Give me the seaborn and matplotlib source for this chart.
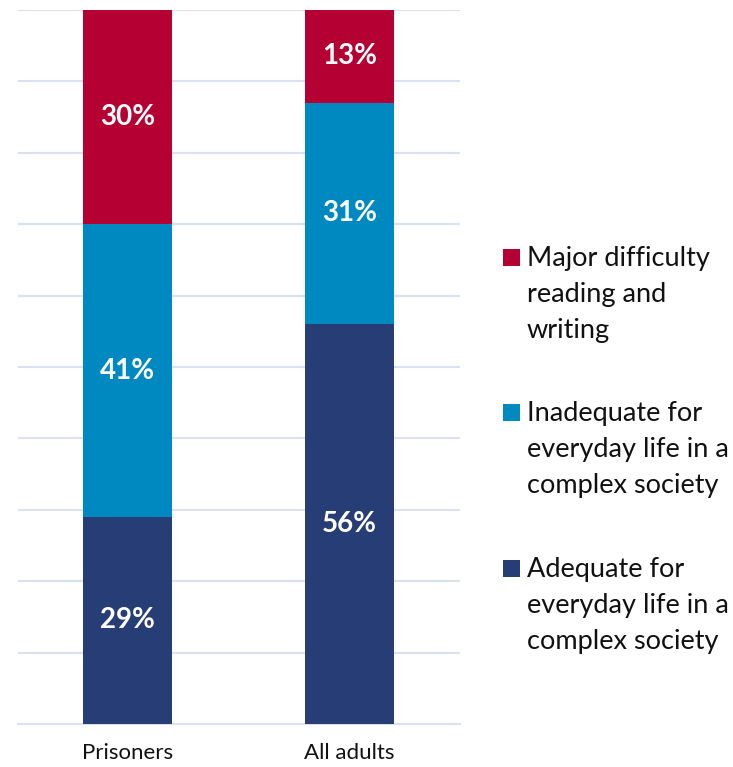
import matplotlib
matplotlib.use('Agg')
import matplotlib.pyplot as plt
import seaborn as sns
import pandas as pd
from matplotlib.patches import Rectangle

sns.set_style('white')
plt.rcParams['font.family'] = ['Lato', 'DejaVu Sans']

# ---- data ----
groups = ['Prisoners', 'All adults']
adequate = [29, 56]
inadequate = [41, 31]
major = [30, 13]
series_names = [['Major difficulty', 'reading and', 'writing'],
                ['Inadequate for', 'everyday life in a', 'complex society'],
                ['Adequate for', 'everyday life in a', 'complex society']]
colors = ['#B40032', '#0088C1', '#273D76']

df = pd.DataFrame({'group': groups, 'adequate': adequate,
                   'inadequate': inadequate, 'major': major})
df['lvl1'] = df['adequate']
df['lvl2'] = df['lvl1'] + df['inadequate']
df['lvl3'] = df['lvl2'] + df['major']

W, H = 733, 767
fig = plt.figure(figsize=(W/100, H/100), dpi=100)
ax = fig.add_axes([18/W, 43/H, 442/W, 714/H])

# stacked look: draw cumulative totals from back to front
for col, c in zip(['lvl3', 'lvl2', 'lvl1'], colors):
    sns.barplot(data=df, x='group', y=col, color=c, width=0.4,
                saturation=1, linewidth=0, ax=ax, zorder=3)

# value labels in the middle of each segment
for i, row in df.iterrows():
    segs = [(0, row['adequate']), (row['lvl1'], row['inadequate']),
            (row['lvl2'], row['major'])]
    for base, v in segs:
        ax.text(i, base + v/2, f'{v}%', ha='center', va='center',
                color='white', fontsize=20, fontweight='bold', zorder=5)

ax.set_ylim(0, 100)
ax.set_xlim(-0.493, 1.498)
ax.set_yticks(range(0, 101, 10))
ax.set_yticklabels([])
ax.tick_params(axis='y', length=0)
ax.tick_params(axis='x', length=0, labelsize=16, pad=14, labelcolor='#111111')
ax.set_xlabel('')
ax.set_ylabel('')
ax.grid(axis='y', color='#D9E1F2', linewidth=1.5, zorder=0)
for s in ['left', 'right', 'top']:
    ax.spines[s].set_visible(False)
ax.spines['bottom'].set_color('#D9E1F2')
ax.spines['bottom'].set_linewidth(1.5)

# legend: square + wrapped text, square aligned with first line
entry_tops = [249, 404, 560]
for top, c, lines in zip(entry_tops, colors, series_names):
    fig.add_artist(Rectangle((503/W, 1 - (top + 17)/H), 17/W, 17/H,
                             transform=fig.transFigure, facecolor=c,
                             edgecolor='none'))
    for k, line in enumerate(lines):
        fig.text(527/W, 1 - (top + 17 + 36*k)/H, line, fontsize=19.5,
                 va='baseline', ha='left', color='#111111')

plt.savefig('out.png', dpi=100)
plt.close()
